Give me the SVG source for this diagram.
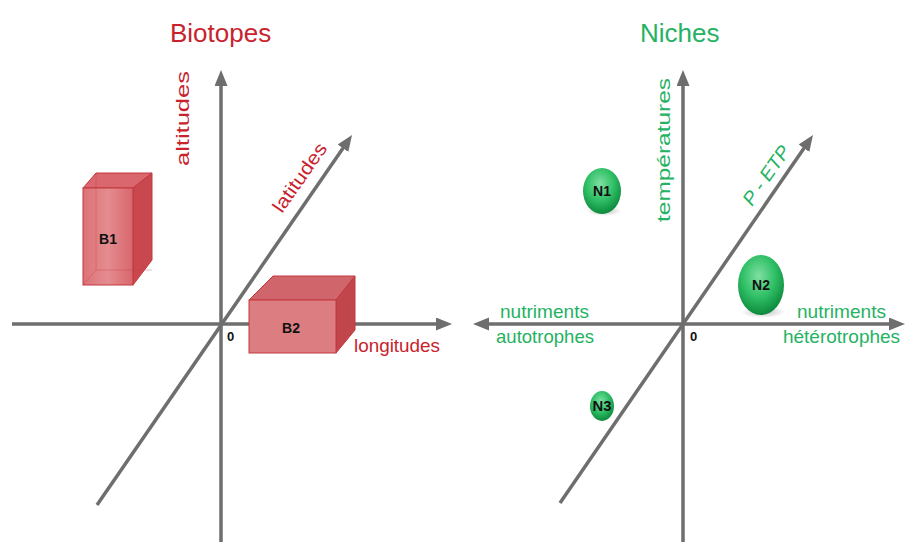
<svg xmlns="http://www.w3.org/2000/svg" width="906" height="542" viewBox="0 0 906 542">
<style>
.axis{stroke:#6e6e6e;stroke-width:3.5;fill:none}
.red{fill:#c8232c;font-family:"Liberation Sans",Arial,sans-serif}
.green{fill:#25b263;font-family:"Liberation Sans",Arial,sans-serif}
.title{font-size:26px}
.lbl{font-size:19px}
.zero{font-family:"Liberation Sans",Arial,sans-serif;font-weight:bold;font-size:13px;fill:#111}
.nl{font-family:"Liberation Sans",Arial,sans-serif;font-weight:bold;font-size:14px;fill:#111;text-anchor:middle}
.edge{stroke:#c2393f;stroke-width:1}
</style>
<defs>
<marker id="arr" markerUnits="userSpaceOnUse" markerWidth="18" markerHeight="14" refX="4" refY="6.5" orient="auto-start-reverse">
<path d="M0,0 L16,6.5 L0,13 Z" fill="#6e6e6e"/>
</marker>
<radialGradient id="ball" cx="0.45" cy="0.35" r="0.65">
<stop offset="0" stop-color="#7fe0a2"/>
<stop offset="0.55" stop-color="#2fbf66"/>
<stop offset="1" stop-color="#0d8a3c"/>
</radialGradient>
<radialGradient id="shadow" cx="0.5" cy="0.5" r="0.5">
<stop offset="0" stop-color="#000" stop-opacity="0.25"/>
<stop offset="1" stop-color="#000" stop-opacity="0"/>
</radialGradient>
<linearGradient id="front1" x1="0" y1="0" x2="1" y2="0">
<stop offset="0" stop-color="#dc7277"/>
<stop offset="0.5" stop-color="#e48c90"/>
<stop offset="1" stop-color="#d8666c"/>
</linearGradient>
</defs>

<!-- titles -->
<text class="red title" x="170" y="42">Biotopes</text>
<text class="green title" x="640" y="42">Niches</text>

<!-- connectors / axes -->
<g id="axes">
<line class="axis" x1="12" y1="324" x2="440" y2="324" marker-end="url(#arr)"/>
<line class="axis" x1="221" y1="542" x2="221" y2="82" marker-end="url(#arr)"/>
<line class="axis" x1="97" y1="505" x2="345.2" y2="144.9" marker-end="url(#arr)"/>
<line class="axis" x1="485" y1="324" x2="893" y2="324" marker-start="url(#arr)" marker-end="url(#arr)"/>
<line class="axis" x1="683" y1="542" x2="683" y2="82" marker-end="url(#arr)"/>
<line class="axis" x1="560" y1="503" x2="806.2" y2="144.9" marker-end="url(#arr)"/>
</g>

<!-- axis labels -->
<text class="red lbl" transform="translate(189,166) rotate(-90)" textLength="95" lengthAdjust="spacingAndGlyphs">altitudes</text>
<text class="red lbl" transform="translate(282,214) rotate(-55)" textLength="80" lengthAdjust="spacingAndGlyphs">latitudes</text>
<text class="red lbl" x="354" y="352" textLength="86" lengthAdjust="spacingAndGlyphs">longitudes</text>
<text class="zero" x="227" y="341">0</text>

<text class="green lbl" transform="translate(670,222) rotate(-90)" textLength="144" lengthAdjust="spacingAndGlyphs">températures</text>
<text class="green lbl" transform="translate(752,207) rotate(-55)" font-style="italic" textLength="68" lengthAdjust="spacingAndGlyphs">P - ETP</text>
<text class="green lbl" x="500" y="318" textLength="89" lengthAdjust="spacingAndGlyphs">nutriments</text>
<text class="green lbl" x="496" y="343" textLength="98" lengthAdjust="spacingAndGlyphs">autotrophes</text>
<text class="green lbl" x="797" y="318" textLength="89" lengthAdjust="spacingAndGlyphs">nutriments</text>
<text class="green lbl" x="783" y="343" textLength="117" lengthAdjust="spacingAndGlyphs">hétérotrophes</text>
<text class="zero" x="690" y="341">0</text>

<!-- B1 translucent box -->
<g id="B1">
<polygon points="83,188 96,173 152,173 133,188" fill="#d9676d" class="edge"/>
<polygon points="133,188 152,173 152,260 133,285" fill="#c9484e" class="edge"/>
<rect x="83" y="188" width="50" height="97" fill="url(#front1)" class="edge"/>
<polyline points="83,285 96,270 152,270" fill="none" stroke="#c2393f" stroke-opacity="0.35"/>
<line x1="96" y1="173" x2="96" y2="270" stroke="#c2393f" stroke-opacity="0.35"/>
<text class="nl" x="108" y="244">B1</text>
</g>

<!-- B2 box -->
<g id="B2">
<polygon points="249,300 273,276 355,276 336,300" fill="#d0666b" class="edge"/>
<polygon points="336,300 355,276 355,330 336,353" fill="#c0464c" class="edge"/>
<rect x="249" y="300" width="87" height="53" fill="#dc7d81" class="edge"/>
<text class="nl" x="291" y="333">B2</text>
</g>

<!-- niches -->
<g id="N1">
<ellipse cx="604" cy="211" rx="18" ry="5" fill="url(#shadow)"/>
<ellipse cx="602" cy="191" rx="19" ry="23" fill="url(#ball)"/>
<text class="nl" x="602" y="196">N1</text>
</g>
<g id="N2">
<ellipse cx="763" cy="312" rx="22" ry="6" fill="url(#shadow)"/>
<ellipse cx="761" cy="285" rx="23" ry="30" fill="url(#ball)"/>
<text class="nl" x="761" y="290">N2</text>
</g>
<g id="N3">
<ellipse cx="602" cy="406" rx="12" ry="15" fill="url(#ball)"/>
<text class="nl" x="602" y="411" font-size="12" textLength="19" lengthAdjust="spacingAndGlyphs">N3</text>
</g>
</svg>
